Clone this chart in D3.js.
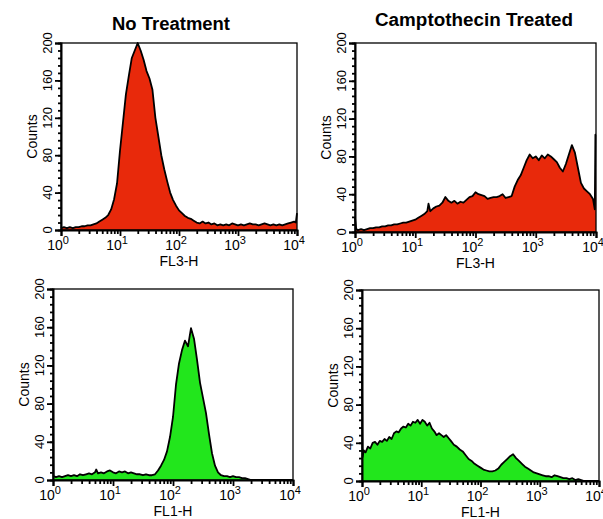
<!DOCTYPE html>
<html>
<head>
<meta charset="utf-8">
<script src="https://cdn.jsdelivr.net/npm/d3@7"></script>
<style>
  body { margin: 0; background: #fff; }
  svg { font-family: Arial, "Liberation Sans", sans-serif; }
</style>
</head>
<body>
<div id="chart"></div>
<script>
// histogram values: [log10 channel position, counts]
let noTreatFL3 = [[0,2],[0.05,3],[0.1,2],[0.15,3],[0.2,2],[0.25,3],[0.3,3],[0.35,4],[0.4,4],[0.45,5],[0.5,5],[0.55,6],
  [0.6,7],[0.65,9],[0.7,11],[0.75,13],[0.8,16],[0.85,22],[0.9,33],[0.95,50],[1.0,85],[1.05,115],[1.1,145],[1.15,165],
  [1.2,184],[1.25,192],[1.3,200],[1.35,192],[1.4,182],[1.45,170],[1.5,162],[1.55,150],[1.6,120],[1.65,100],[1.7,80],
  [1.75,65],[1.8,52],[1.85,40],[1.9,32],[1.95,26],[2.0,21],[2.05,18],[2.1,15],[2.15,13],[2.2,12],[2.25,10],[2.3,8],
  [2.35,7],[2.4,9],[2.45,7],[2.5,8],[2.55,6],[2.6,7],[2.65,5],[2.7,6],[2.75,5],[2.8,6],[2.85,5],[2.9,7],[2.95,6],
  [3.0,5],[3.05,6],[3.1,5],[3.15,6],[3.2,7],[3.25,6],[3.3,6],[3.35,5],[3.4,6],[3.45,7],[3.5,6],[3.55,5],[3.6,6],
  [3.65,5],[3.7,6],[3.75,5],[3.8,6],[3.85,7],[3.9,8],[3.95,9],[3.98,8],[4.0,18]];

let cptFL3 = [[0,15],[0.02,3],[0.05,2],[0.1,3],[0.15,2],[0.2,3],[0.25,4],[0.3,4],[0.35,5],[0.4,5],[0.45,6],[0.5,6],
  [0.55,7],[0.6,7],[0.65,8],[0.7,8],[0.75,9],[0.8,10],[0.85,10],[0.9,11],[0.95,12],[1.0,13],[1.05,15],[1.1,17],
  [1.15,19],[1.2,22],[1.22,30],[1.25,22],[1.3,25],[1.35,27],[1.4,28],[1.45,31],[1.5,37],[1.55,33],[1.6,31],[1.65,33],
  [1.7,30],[1.75,32],[1.8,31],[1.85,34],[1.9,37],[1.95,38],[2.0,42],[2.05,40],[2.1,39],[2.15,38],[2.2,35],[2.25,36],
  [2.3,37],[2.35,37],[2.4,38],[2.45,40],[2.5,36],[2.55,37],[2.6,38],[2.65,48],[2.7,55],[2.75,60],[2.8,68],[2.85,76],
  [2.9,82],[2.95,78],[3.0,80],[3.05,76],[3.1,81],[3.15,78],[3.2,82],[3.25,80],[3.3,77],[3.35,74],[3.4,68],[3.45,64],
  [3.5,72],[3.55,82],[3.6,92],[3.65,84],[3.7,68],[3.75,52],[3.8,46],[3.85,43],[3.9,40],[3.95,35],[3.98,24],
  [3.99,103],[4.0,103]];

let noTreatFL1 = [[0,101],[0.01,4],[0.05,3],[0.1,4],[0.15,3],[0.2,4],[0.25,5],[0.3,4],[0.35,5],[0.4,4],[0.45,6],
  [0.5,5],[0.55,6],[0.6,7],[0.65,6],[0.7,8],[0.72,11],[0.75,7],[0.8,8],[0.85,7],[0.9,9],[0.95,10],[1.0,8],[1.05,7],
  [1.1,9],[1.15,8],[1.2,9],[1.25,7],[1.3,8],[1.35,7],[1.4,6],[1.45,6],[1.5,5],[1.55,6],[1.6,5],[1.65,5],[1.7,6],
  [1.75,10],[1.8,15],[1.85,21],[1.9,30],[1.95,45],[2.0,66],[2.05,100],[2.1,122],[2.15,136],[2.2,146],[2.25,140],
  [2.3,159],[2.35,148],[2.4,126],[2.45,102],[2.5,86],[2.55,70],[2.6,48],[2.65,28],[2.7,15],[2.75,8],[2.8,5],
  [2.85,4],[2.9,4],[2.95,3],[3.0,4],[3.05,3],[3.1,3],[3.15,2],[3.2,2],[3.25,1],[3.3,0],[4.0,0]];

let cptFL1 = [[0,113],[0.01,25],[0.03,32],[0.06,30],[0.1,36],[0.14,34],[0.18,40],[0.22,41],[0.26,38],[0.3,42],
  [0.34,41],[0.38,44],[0.42,42],[0.46,46],[0.5,44],[0.54,50],[0.58,52],[0.62,51],[0.66,55],[0.7,57],[0.74,56],
  [0.78,60],[0.82,58],[0.86,62],[0.9,61],[0.94,64],[0.98,60],[1.02,64],[1.06,62],[1.1,58],[1.14,61],[1.18,55],
  [1.22,52],[1.26,48],[1.3,50],[1.34,48],[1.38,46],[1.42,48],[1.46,45],[1.5,42],[1.55,38],[1.6,36],[1.65,33],
  [1.7,31],[1.75,27],[1.8,23],[1.85,21],[1.9,18],[1.95,16],[2.0,14],[2.05,12],[2.1,11],[2.15,10],[2.2,10],[2.25,11],
  [2.3,13],[2.35,17],[2.4,20],[2.45,23],[2.5,26],[2.55,28],[2.6,24],[2.65,21],[2.7,18],[2.75,15],[2.8,13],[2.85,11],
  [2.9,9],[2.95,8],[3.0,7],[3.05,6],[3.1,5],[3.15,5],[3.2,4],[3.25,6],[3.3,5],[3.35,4],[3.4,3],[3.45,3],[3.5,2],
  [3.55,3],[3.6,1],[3.65,2],[3.7,1],[3.75,0],[4.0,0]];

let titles = ["No Treatment", "Camptothecin Treated"];
let yTicks = [0, 40, 80, 120, 160, 200];
let xTicks = [1, 10, 100, 1000, 10000];
let xLabels = ["0", "1", "2", "3", "4"];

const width = 603, height = 519;

let svg = d3.select("#chart")
    .append("svg")
    .attr("width", width)
    .attr("height", height);

let panels = [
    {data: noTreatFL3, color: "#e8290b", xLabel: "FL3-H", left: 61, right: 297, top: 43, bottom: 230},
    {data: cptFL3, color: "#e8290b", xLabel: "FL3-H", left: 355, right: 596, top: 43, bottom: 232},
    {data: noTreatFL1, color: "#22e61c", xLabel: "FL1-H", left: 53, right: 293, top: 289, bottom: 480},
    {data: cptFL1, color: "#22e61c", xLabel: "FL1-H", left: 362, right: 599, top: 290, bottom: 481}
];

panels.forEach(function(p) {
    let g = svg.append("g");

    let x = d3.scaleLog()
        .domain([1, 10000])
        .range([p.left, p.right]);

    let y = d3.scaleLinear()
        .domain([0, 200])
        .range([p.bottom, p.top]);

    let area = d3.area()
        .x(function(d) { return x(Math.pow(10, d[0])); })
        .y0(y(0))
        .y1(function(d) { return y(d[1]); });

    g.append("path")
        .datum(p.data)
        .attr("fill", p.color)
        .attr("stroke", "none")
        .attr("d", area);

    g.append("path")
        .datum(p.data)
        .attr("fill", "none")
        .attr("stroke", "#000")
        .attr("stroke-width", 1.8)
        .attr("stroke-linejoin", "round")
        .attr("d", d3.line()
            .x(function(d) { return x(Math.pow(10, d[0])); })
            .y(function(d) { return y(d[1]); })
        );

    // frame
    g.append("rect")
        .attr("x", p.left)
        .attr("y", p.top)
        .attr("width", p.right - p.left)
        .attr("height", p.bottom - p.top)
        .attr("fill", "none")
        .attr("stroke", "#000")
        .attr("stroke-width", 1.3);

    // y axis
    let yMinor = d3.range(0, 201, 8);
    g.append("g")
        .attr("transform", `translate(${p.left},0)`)
        .call(d3.axisLeft(y).tickValues(yMinor).tickSize(3).tickFormat(""))
        .call(s => s.select(".domain").remove())
        .selectAll("line").attr("stroke-width", 1.8);

    let yAxis = g.append("g")
        .attr("transform", `translate(${p.left},0)`)
        .call(d3.axisLeft(y).tickValues(yTicks).tickSize(6).tickFormat(""));
    yAxis.select(".domain").attr("stroke-width", 2);
    yAxis.selectAll("line").attr("stroke-width", 1.8);

    g.selectAll(".ylab")
        .data(yTicks)
        .enter()
        .append("text")
        .attr("transform", function(d) { return `translate(${p.left - 9},${y(d)})rotate(-90)`; })
        .style("text-anchor", "middle")
        .style("font-size", "13px")
        .text(function(d) { return d; });

    g.append("text")
        .attr("transform", `translate(${p.left - 24},${(p.top + p.bottom) / 2})rotate(-90)`)
        .style("text-anchor", "middle")
        .style("font-size", "14px")
        .text("Counts");

    // x axis
    let minor = [];
    xTicks.slice(0, 4).forEach(function(t) {
        for (let k = 2; k < 10; k++) minor.push(t * k);
    });
    g.append("g")
        .attr("transform", `translate(0,${p.bottom})`)
        .call(d3.axisBottom(x).tickValues(minor).tickSize(4).tickFormat(""))
        .call(s => s.select(".domain").remove())
        .selectAll("line").attr("stroke-width", 1.8);

    let xAxis = g.append("g")
        .attr("transform", `translate(0,${p.bottom})`)
        .call(d3.axisBottom(x).tickValues(xTicks).tickSize(6).tickFormat(""));
    xAxis.select(".domain").attr("stroke-width", 2);
    xAxis.selectAll("line").attr("stroke-width", 1.8);

    let labs = g.selectAll(".xlab")
        .data(xTicks)
        .enter()
        .append("text")
        .attr("x", function(d) { return x(d) - 3; })
        .attr("y", p.bottom + 20)
        .style("text-anchor", "middle")
        .style("font-size", "14px");
    labs.append("tspan").text("10");
    labs.append("tspan")
        .attr("dy", -6)
        .style("font-size", "11px")
        .text(function(d, i) { return xLabels[i]; });

    g.append("text")
        .attr("x", (p.left + p.right) / 2)
        .attr("y", p.bottom + 36)
        .style("text-anchor", "middle")
        .style("font-size", "14px")
        .text(p.xLabel);
});

let titlePos = [{x: 112, y: 30, w: 118}, {x: 375, y: 26, w: 198}];

svg.selectAll(".title")
    .data(titles)
    .enter()
    .append("text")
    .attr("x", function(d, i) { return titlePos[i].x; })
    .attr("y", function(d, i) { return titlePos[i].y; })
    .attr("textLength", function(d, i) { return titlePos[i].w; })
    .attr("lengthAdjust", "spacingAndGlyphs")
    .style("font-size", "18px")
    .style("font-weight", "bold")
    .text(function(d) { return d; });
</script>
</body>
</html>
